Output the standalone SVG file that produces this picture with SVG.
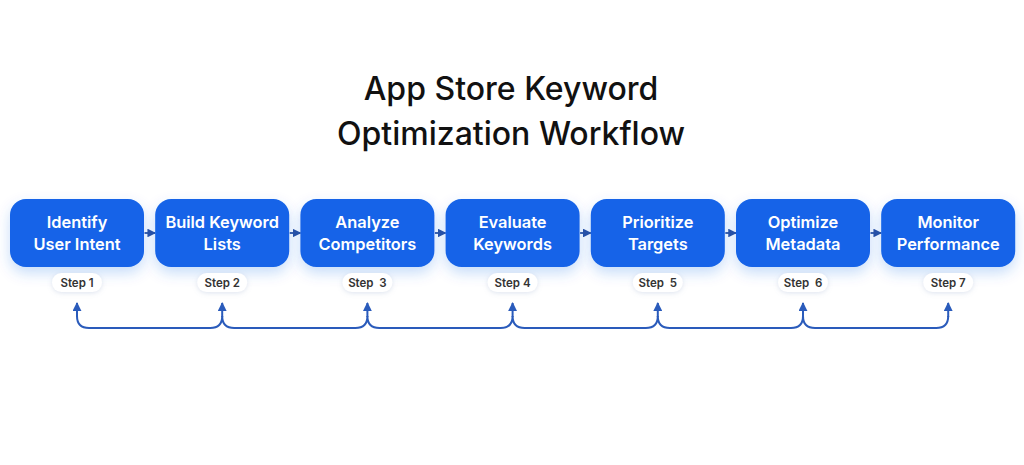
<svg xmlns="http://www.w3.org/2000/svg" width="1024" height="465" viewBox="0 0 1024 465">
<defs>
<style>
.title{font-family:Inter,"Open Sans","Liberation Sans",sans-serif;font-size:32px;font-weight:550;fill:#111;text-anchor:middle}
.box{fill:#1463E8}
.lbl{font-family:Inter,"Open Sans","Liberation Sans",sans-serif;font-size:16.4px;font-weight:600;fill:#fff;text-anchor:middle}
.pill{fill:#fff}
.step{font-family:Inter,"Open Sans","Liberation Sans",sans-serif;font-size:11.5px;font-weight:600;fill:#333;text-anchor:middle;white-space:pre}
.conn{fill:none;stroke:#2A5BBB;stroke-width:2}
.link{fill:none;stroke:#2A4FA0;stroke-width:1.8}
</style>
<filter id="glow" x="-30%" y="-40%" width="160%" height="190%">
<feDropShadow dx="0" dy="6" stdDeviation="7" flood-color="#1565E6" flood-opacity="0.22"/>
</filter>
<filter id="psh" x="-40%" y="-60%" width="180%" height="220%">
<feDropShadow dx="0" dy="1" stdDeviation="2.5" flood-color="#8aa0c8" flood-opacity="0.3"/>
</filter>
<marker id="ah" viewBox="0 0 10 10" refX="9" refY="5" markerWidth="4.5" markerHeight="4.5" orient="auto" markerUnits="strokeWidth">
<path d="M0,0 L10,5 L0,10 Z" fill="#2A5BBB"/>
</marker>
<marker id="ahs" viewBox="0 0 10 10" refX="9" refY="5" markerWidth="4.8" markerHeight="4.8" orient="auto" markerUnits="strokeWidth">
<path d="M0,0 L10,5 L0,10 Z" fill="#2A4FA0"/>
</marker>
</defs>
<rect width="1024" height="465" fill="#fff"/>
<g id="title">
<text class="title" x="511" y="100">App Store Keyword</text>
<text class="title" x="511" y="145">Optimization Workflow</text>
</g>
<g id="connectors">
<path class="link" marker-end="url(#ahs)" d="M144.5,233 H155.2"/>
<path class="link" marker-end="url(#ahs)" d="M289.7,233 H300.4"/>
<path class="link" marker-end="url(#ahs)" d="M434.9,233 H445.6"/>
<path class="link" marker-end="url(#ahs)" d="M580.1,233 H590.8"/>
<path class="link" marker-end="url(#ahs)" d="M725.3,233 H736"/>
<path class="link" marker-end="url(#ahs)" d="M870.5,233 H881.2"/>
<path class="conn" d="M77,316 Q77,328 89,328 H210.2 Q222.2,328 222.2,316 Q222.2,328 234.2,328 H355.4 Q367.4,328 367.4,316 Q367.4,328 379.4,328 H500.6 Q512.6,328 512.6,316 Q512.6,328 524.6,328 H645.8 Q657.8,328 657.8,316 Q657.8,328 669.8,328 H791 Q803,328 803,316 Q803,328 815,328 H936.2 Q948.2,328 948.2,316"/>
<path class="conn" marker-end="url(#ah)" d="M77,317 V303"/>
<path class="conn" marker-end="url(#ah)" d="M222.2,317 V303"/>
<path class="conn" marker-end="url(#ah)" d="M367.4,317 V303"/>
<path class="conn" marker-end="url(#ah)" d="M512.6,317 V303"/>
<path class="conn" marker-end="url(#ah)" d="M657.8,317 V303"/>
<path class="conn" marker-end="url(#ah)" d="M803,317 V303"/>
<path class="conn" marker-end="url(#ah)" d="M948.2,317 V303"/>
</g>
<g id="node1">
<rect class="box" filter="url(#glow)" x="10" y="199" width="134" height="68" rx="16"/>
<text class="lbl" x="77" y="228">Identify</text>
<text class="lbl" x="77" y="250">User Intent</text>
<rect class="pill" filter="url(#psh)" x="52" y="273" width="50" height="19" rx="9.5"/>
<text class="step" x="77" y="286.5">Step 1</text>
</g>
<g id="node2">
<rect class="box" filter="url(#glow)" x="155.2" y="199" width="134" height="68" rx="16"/>
<text class="lbl" x="222.2" y="228">Build Keyword</text>
<text class="lbl" x="222.2" y="250">Lists</text>
<rect class="pill" filter="url(#psh)" x="197.2" y="273" width="50" height="19" rx="9.5"/>
<text class="step" x="222.2" y="286.5">Step 2</text>
</g>
<g id="node3">
<rect class="box" filter="url(#glow)" x="300.4" y="199" width="134" height="68" rx="16"/>
<text class="lbl" x="367.4" y="228">Analyze</text>
<text class="lbl" x="367.4" y="250">Competitors</text>
<rect class="pill" filter="url(#psh)" x="342.4" y="273" width="50" height="19" rx="9.5"/>
<text class="step" x="367.4" y="286.5">Step  3</text>
</g>
<g id="node4">
<rect class="box" filter="url(#glow)" x="445.6" y="199" width="134" height="68" rx="16"/>
<text class="lbl" x="512.6" y="228">Evaluate</text>
<text class="lbl" x="512.6" y="250">Keywords</text>
<rect class="pill" filter="url(#psh)" x="487.6" y="273" width="50" height="19" rx="9.5"/>
<text class="step" x="512.6" y="286.5">Step 4</text>
</g>
<g id="node5">
<rect class="box" filter="url(#glow)" x="590.8" y="199" width="134" height="68" rx="16"/>
<text class="lbl" x="657.8" y="228">Prioritize</text>
<text class="lbl" x="657.8" y="250">Targets</text>
<rect class="pill" filter="url(#psh)" x="632.8" y="273" width="50" height="19" rx="9.5"/>
<text class="step" x="657.8" y="286.5">Step  5</text>
</g>
<g id="node6">
<rect class="box" filter="url(#glow)" x="736" y="199" width="134" height="68" rx="16"/>
<text class="lbl" x="803" y="228">Optimize</text>
<text class="lbl" x="803" y="250">Metadata</text>
<rect class="pill" filter="url(#psh)" x="778" y="273" width="50" height="19" rx="9.5"/>
<text class="step" x="803" y="286.5">Step  6</text>
</g>
<g id="node7">
<rect class="box" filter="url(#glow)" x="881.2" y="199" width="134" height="68" rx="16"/>
<text class="lbl" x="948.2" y="228">Monitor</text>
<text class="lbl" x="948.2" y="250">Performance</text>
<rect class="pill" filter="url(#psh)" x="923.2" y="273" width="50" height="19" rx="9.5"/>
<text class="step" x="948.2" y="286.5">Step 7</text>
</g>
</svg>
